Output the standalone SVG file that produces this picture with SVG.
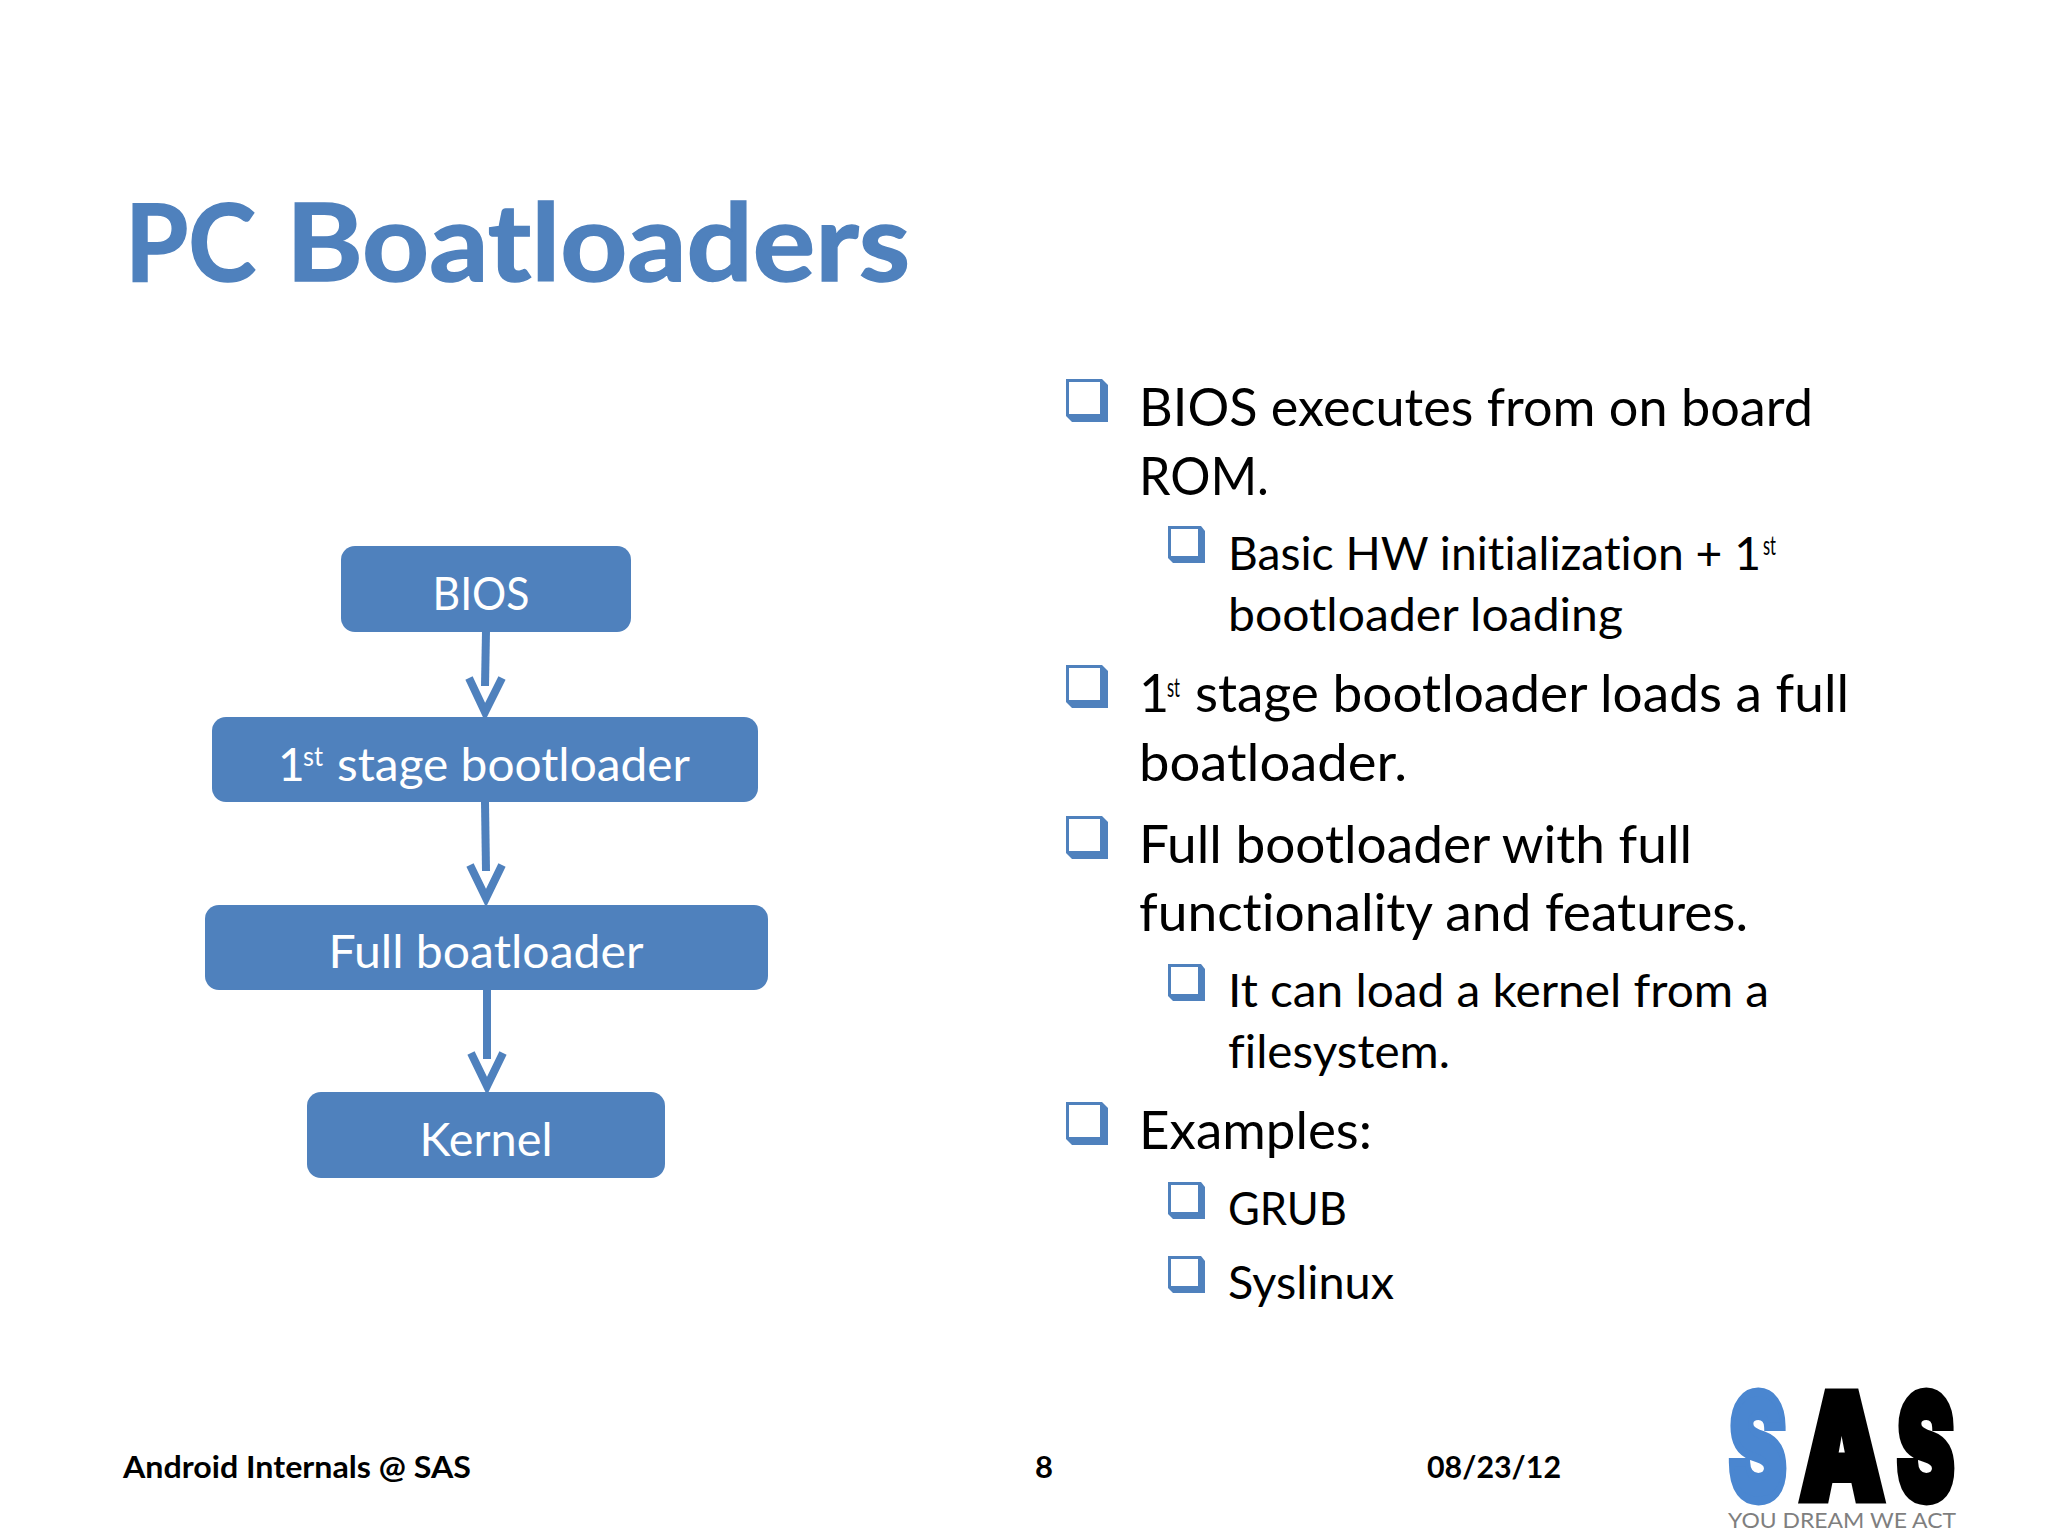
<svg xmlns="http://www.w3.org/2000/svg" width="2048" height="1536" viewBox="0 0 2048 1536">
<style>
text{font-family:"Lato","Open Sans","Liberation Sans",sans-serif;font-variant-ligatures:none}
.title{font-size:108px;font-weight:700;fill:#4f81bd;stroke:#4f81bd;stroke-width:1.5}
.l1{font-size:52px;fill:#000}
.l2{font-size:46px;fill:#000}
.sup{font-size:26px;fill:#000}
.foot{font-size:31px;font-weight:700;fill:#000}
.box{fill:#4f81bd;stroke:none}
.nt{font-size:46px;fill:#fff;text-anchor:middle}
.ns{font-size:26px;fill:#fff}
.conn{fill:none;stroke:#4f81bd;stroke-width:8}
.logo{font-family:"Inter","DejaVu Sans",sans-serif;font-weight:900;font-size:100px}
</style>
<defs>
<g id="b1"><path d="M0 0H36L42 6V43H6L0 37Z" fill="#4f81bd"/><rect x="3" y="3" width="31" height="32" fill="#fff"/></g>
<g id="b2"><path d="M0 0H33L37 5V37H5L0 32Z" fill="#4f81bd"/><rect x="3" y="3" width="27" height="27" fill="#fff"/></g>
</defs>
<rect width="2048" height="1536" fill="#fff"/>
<text id="title" class="title" x="125" y="281" textLength="131" lengthAdjust="spacingAndGlyphs">PC</text>
<text class="title" x="286" y="281" textLength="624" lengthAdjust="spacingAndGlyphs">Boatloaders</text>

<g id="connectors" class="conn">
<path d="M486 631L485 686"/><path d="M469 678L485 712L502 678"/>
<path d="M485 802L486 871"/><path d="M470 865L486 898L502 865"/>
<path d="M487 989V1059"/><path d="M471 1053L487 1086L503 1053"/>
</g>
<g id="node-bios"><rect class="box" x="341" y="546" width="290" height="86" rx="14"/><text class="nt" x="481" y="610" textLength="97" lengthAdjust="spacingAndGlyphs">BIOS</text></g>
<g id="node-stage1"><rect class="box" x="212" y="717" width="546" height="85" rx="14"/><text x="278" y="781" class="nt" style="text-anchor:start">1</text><text class="ns" x="303" y="766" textLength="20" lengthAdjust="spacingAndGlyphs">st</text><text class="nt" x="337" y="781" style="text-anchor:start" textLength="353" lengthAdjust="spacingAndGlyphs">stage bootloader</text></g>
<g id="node-full"><rect class="box" x="205" y="905" width="563" height="85" rx="14"/><text class="nt" x="486" y="968" textLength="315" lengthAdjust="spacingAndGlyphs">Full boatloader</text></g>
<g id="node-kernel"><rect class="box" x="307" y="1092" width="358" height="86" rx="14"/><text class="nt" x="486" y="1156" textLength="133" lengthAdjust="spacingAndGlyphs">Kernel</text></g>

<g id="bullets">
<use href="#b1" x="1066" y="379"/><use href="#b2" x="1168" y="526"/><use href="#b1" x="1066" y="665"/><use href="#b1" x="1066" y="816"/><use href="#b2" x="1168" y="964"/><use href="#b1" x="1066" y="1102"/><use href="#b2" x="1168" y="1182"/><use href="#b2" x="1168" y="1256"/>
<text class="l1" x="1139" y="426" textLength="674" lengthAdjust="spacingAndGlyphs">BIOS executes from on board</text>
<text class="l1" x="1139" y="495" textLength="130" lengthAdjust="spacingAndGlyphs">ROM.</text>
<text class="l2" x="1228" y="570" textLength="533" lengthAdjust="spacingAndGlyphs">Basic HW initialization + 1</text>
<text class="sup" x="1763" y="555" textLength="13" lengthAdjust="spacingAndGlyphs">st</text>
<text class="l2" x="1228" y="631" textLength="395" lengthAdjust="spacingAndGlyphs">bootloader loading</text>
<text class="l1" x="1139" y="712">1</text>
<text class="sup" x="1167" y="697" textLength="13" lengthAdjust="spacingAndGlyphs">st</text>
<text class="l1" x="1195" y="712" textLength="654" lengthAdjust="spacingAndGlyphs">stage bootloader loads a full</text>
<text class="l1" x="1139" y="781" textLength="268" lengthAdjust="spacingAndGlyphs">boatloader.</text>
<text class="l1" x="1139" y="863" textLength="553" lengthAdjust="spacingAndGlyphs">Full bootloader with full</text>
<text class="l1" x="1139" y="931" textLength="609" lengthAdjust="spacingAndGlyphs">functionality and features.</text>
<text class="l2" x="1228" y="1007" textLength="541" lengthAdjust="spacingAndGlyphs">It can load a kernel from a</text>
<text class="l2" x="1228" y="1068" textLength="222" lengthAdjust="spacingAndGlyphs">filesystem.</text>
<text class="l1" x="1139" y="1149" textLength="233" lengthAdjust="spacingAndGlyphs">Examples:</text>
<text class="l2" x="1228" y="1225" textLength="119" lengthAdjust="spacingAndGlyphs">GRUB</text>
<text class="l2" x="1228" y="1299" textLength="166" lengthAdjust="spacingAndGlyphs">Syslinux</text>
</g>
<g id="footer">
<text class="foot" x="123" y="1478" textLength="348" lengthAdjust="spacingAndGlyphs">Android Internals @ SAS</text>
<text class="foot" x="1035" y="1478">8</text>
<text class="foot" x="1427" y="1478" textLength="134" lengthAdjust="spacingAndGlyphs">08/23/12</text>
</g>
<g id="logo">
<text class="logo" transform="translate(1729 1500) scale(0.86 1.46)" fill="#4a86d0" stroke="#4a86d0" stroke-width="6">S</text>
<text class="logo" transform="translate(1800 1499) scale(1.06 1.46)" fill="#000" stroke="#000" stroke-width="6">A</text>
<text class="logo" transform="translate(1897 1500) scale(0.86 1.46)" fill="#000" stroke="#000" stroke-width="6">S</text>
<text x="1728" y="1528" font-size="22" fill="#7f7f7f" textLength="228" lengthAdjust="spacingAndGlyphs">YOU DREAM WE ACT</text>
</g>
</svg>
